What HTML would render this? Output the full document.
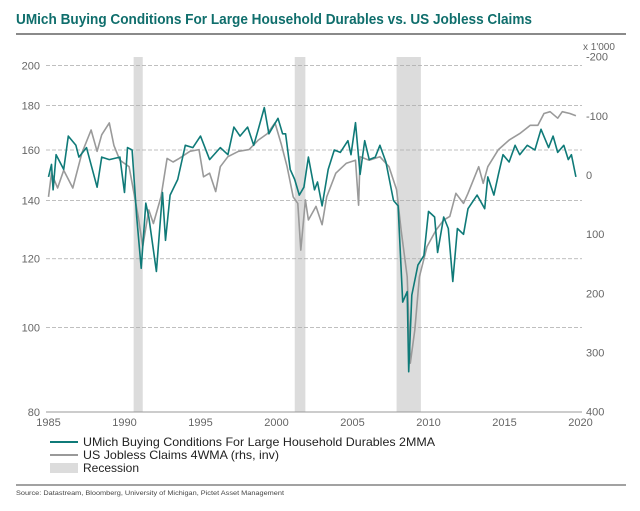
<!DOCTYPE html>
<html><head><meta charset="utf-8"><style>
body{margin:0;background:#fff;}
svg{display:block;font-family:"Liberation Sans Narrow","Liberation Sans",sans-serif;}
</style></head><body>
<svg id="chart" width="640" height="511" viewBox="0 0 640 511">
<text x="16" y="24" font-size="14.5" font-weight="bold" fill="#0f6e6c" textLength="516" lengthAdjust="spacingAndGlyphs">UMich Buying  Conditions  For Large Household Durables vs.  US  Jobless Claims</text>
<line x1="16" y1="34" x2="626" y2="34" stroke="#444" stroke-width="1.2"/>
<text x="583" y="50" font-size="10" fill="#666">x 1'000</text>
<g id="rec"></g><g id="grid"></g><g id="axes"></g><g id="series"></g>
<g>
<line x1="50" y1="442" x2="78" y2="442" stroke="#0f7a78" stroke-width="2"/>
<text x="83" y="446" font-size="12" fill="#222" textLength="352" lengthAdjust="spacingAndGlyphs">UMich Buying Conditions For Large Household Durables 2MMA</text>
<line x1="50" y1="455" x2="78" y2="455" stroke="#999" stroke-width="2"/>
<text x="83" y="459" font-size="12" fill="#222" textLength="196" lengthAdjust="spacingAndGlyphs">US Jobless Claims 4WMA (rhs, inv)</text>
<rect x="50" y="463" width="28" height="10" fill="#dcdcdc"/>
<text x="83" y="472" font-size="12" fill="#222" textLength="56" lengthAdjust="spacingAndGlyphs">Recession</text>
</g>
<line x1="16" y1="485" x2="626" y2="485" stroke="#444" stroke-width="1"/>
<text x="16" y="495" font-size="6" fill="#444" textLength="268" lengthAdjust="spacingAndGlyphs">Source: Datastream,  Bloomberg,  University of Michigan,  Pictet Asset Management</text>
</svg>
<script>
const umichDates=[1985,1985.2,1985.3,1985.5,1986,1986.3,1986.8,1987,1987.5,1988.2,1988.5,1989,1989.7,1990,1990.2,1990.5,1990.8,1991.1,1991.4,1991.6,1992.1,1992.5,1992.7,1993,1993.5,1994,1994.5,1995,1995.6,1996.3,1996.8,1997.2,1997.6,1998.1,1998.5,1998.8,1999.2,1999.5,2000.1,2000.4,2000.6,2000.9,2001.2,2001.5,2001.8,2002.1,2002.5,2002.7,2003,2003.4,2003.8,2004.2,2004.7,2004.9,2005.2,2005.5,2005.8,2006.1,2006.5,2006.8,2007.2,2007.7,2008,2008.3,2008.6,2008.7,2008.9,2009.3,2009.7,2010,2010.4,2010.6,2011,2011.3,2011.6,2011.9,2012.3,2012.6,2013.2,2013.7,2013.9,2014.3,2014.6,2014.9,2015.3,2015.7,2016,2016.5,2017,2017.4,2017.9,2018.2,2018.5,2018.9,2019.2,2019.4,2019.7];
const umichValues=[149,154,144,158,152,166,162,157,161,145,157,156,157,143,161,160,134,117,139,134,116,143,126,142,148,162,161,166,156,161,158,170,166,170,162,169,179,167,174,167,167,152,148,142,145,157,144,147,138,152,160,159,164,158,172,150,164,156,157,162,155,140,138,107,110,89,109,118,121,136,134,122,134,130,113,130,128,137,142,137,149,142,150,158,155,162,158,162,160,169,161,166,159,162,156,158,149];
const claimsDates=[1985,1985.2,1985.6,1986,1986.6,1987.2,1987.8,1988.2,1988.5,1989,1989.3,1989.7,1990.3,1990.9,1991.2,1991.6,1991.9,1992.4,1992.8,1993.2,1993.6,1994.3,1994.9,1995.2,1995.6,1996,1996.3,1996.8,1997.5,1998.2,1998.8,1999.4,1999.9,2000.3,2000.7,2001.1,2001.4,2001.6,2001.9,2002.1,2002.6,2003,2003.3,2003.9,2004.6,2005.2,2005.4,2005.5,2006.1,2006.8,2007.4,2007.9,2008.2,2008.6,2008.8,2009.1,2009.4,2009.9,2010.5,2011,2011.4,2011.8,2012.3,2012.6,2013.3,2013.6,2013.9,2014.6,2015.3,2016,2016.7,2017.2,2017.6,2018,2018.5,2018.8,2019.3,2019.7];
const claimsValues=[37,-3,22,-8,22,-37,-76,-40,-68,-88,-50,-25,-14,70,121,59,82,37,-28,-22,-28,-40,-43,3,-3,28,-14,-31,-40,-43,-59,-70,-88,-53,-14,37,48,127,42,76,53,84,37,-3,-20,-25,51,-31,-25,-31,-14,25,93,172,318,262,172,121,93,76,70,31,48,31,-14,14,-14,-43,-59,-70,-84,-84,-104,-107,-96,-107,-104,-100];
const recessionStarts=[1990.6,2001.2,2007.9];
const recessionEnds=[1991.2,2001.9,2009.5];
const leftTicks=[80,100,120,140,160,180,200];
const rightTicks=[-200,-100,0,100,200,300,400];
const yearTicks=[1985,1990,1995,2000,2005,2010,2015,2020];

const NS="http://www.w3.org/2000/svg";
const X=y=>48.5+(y-1985)*15.2;
const YL=v=>412-378*Math.log(v/80);
const YR=v=>175+v*0.5917;
function mk(tag,attrs,parent){const e=document.createElementNS(NS,tag);for(const k in attrs)e.setAttribute(k,attrs[k]);document.getElementById(parent).appendChild(e);return e;}

recessionStarts.forEach((s,i)=>{
 const r=mk('rect',{x:X(s),y:57,width:X(recessionEnds[i])-X(s),height:355,fill:'#dcdcdc'},'rec');
 
 
});
leftTicks.forEach(v=>{
 if(v>80){const l=mk('line',{x1:46,x2:582,y1:YL(v),y2:YL(v),stroke:'#aaa','stroke-dasharray':'4 2','stroke-width':0.8},'grid');
 
 }
 const t=mk('text',{x:40,y:YL(v)+4,'font-size':11,fill:'#666','text-anchor':'end'},'axes');t.textContent=v;
 
 
});
rightTicks.forEach(v=>{
 const t=mk('text',{x:586,y:YR(v)+4,'font-size':11,fill:'#666'},'axes');t.textContent=v;
 
 
});
const ax=mk('line',{x1:46,x2:582,y1:412,y2:412,stroke:'#999','stroke-width':1},'axes');


yearTicks.forEach(y=>{
 const t=mk('text',{x:X(y),y:426,'font-size':11,fill:'#666','text-anchor':'middle'},'axes');t.textContent=y;
 
 
});
const gp=claimsDates.map((d,i)=>X(d).toFixed(1)+','+YR(claimsValues[i]).toFixed(1)).join(' ');
const g=mk('polyline',{points:gp,fill:'none',stroke:'#9a9a9a','stroke-width':1.6,'stroke-linejoin':'round'},'series');


const tp=umichDates.map((d,i)=>X(d).toFixed(1)+','+YL(umichValues[i]).toFixed(1)).join(' ');
const t=mk('polyline',{points:tp,fill:'none',stroke:'#0f7a78','stroke-width':1.6,'stroke-linejoin':'round'},'series');


</script>
</body></html>
